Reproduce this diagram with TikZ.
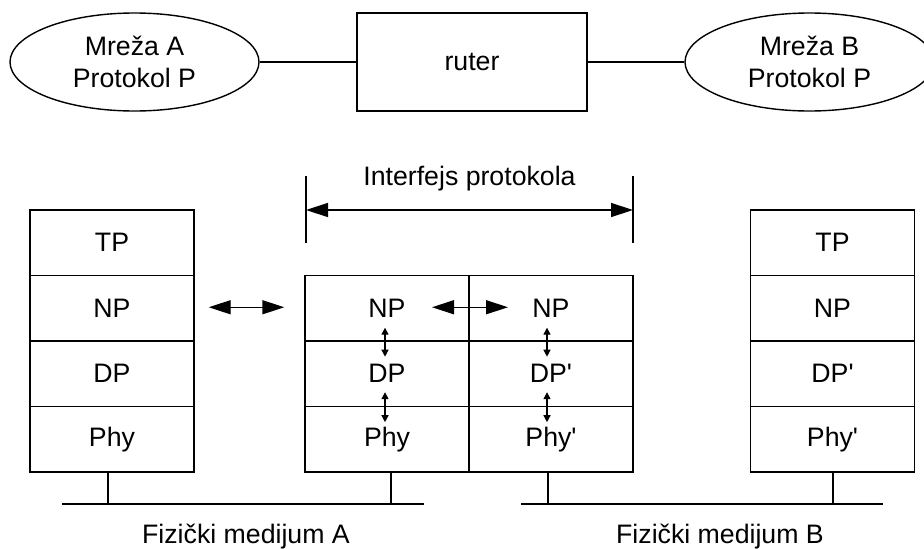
\documentclass[tikz,border=0pt]{standalone}
\usepackage{fontspec}
\setmainfont{Liberation Sans}
\usetikzlibrary{arrows.meta,shapes.geometric}
\newcommand{\pr}{\textquotesingle}
\begin{document}
\begin{tikzpicture}[x=1pt,y=-1pt,
  every node/.style={font=\fontsize{26.7}{32}\selectfont},
  line/.style={line width=1.4pt},
  net/.style={draw, ellipse, line width=1.4pt, minimum width=249pt,
    minimum height=98pt, inner sep=0pt, align=center},
  box/.style={draw, rectangle, line width=1.4pt, inner sep=0pt},
  cell/.style={box, minimum width=164pt, minimum height=65.5pt},
  bigarrow/.style={line width=1.4pt,
    {Triangle[length=22pt,width=14pt]}-{Triangle[length=22pt,width=14pt]}},
  smallarrow/.style={line width=1.3pt,
    {Triangle[length=7pt,width=7pt]}-{Triangle[length=7pt,width=7pt]}},
]
\useasboundingbox (0,0) rectangle (924,549);

% networks and router
\node[net] (netA) at (134.5,62) {Mreža A\\Protokol P};
\node[box, minimum width=230pt, minimum height=98pt] (router) at (472,62) {ruter};
\node[net] (netB) at (809.5,62) {Mreža B\\Protokol P};
\draw[line] (netA) -- (router);
\draw[line] (router) -- (netB);

% left host stack
\node[cell] (tpL)  at (112,242.75) {TP};
\node[cell] (npL)  at (112,308.25) {NP};
\node[cell] (dpL)  at (112,373.75) {DP};
\node[cell] (phyL) at (112,439.25) {Phy};

% router stacks
\node[cell] (npM1)  at (387,308.25) {NP};
\node[cell] (dpM1)  at (387,373.75) {DP};
\node[cell] (phyM1) at (387,439.25) {Phy};
\node[cell] (npM2)  at (551,308.25) {NP};
\node[cell] (dpM2)  at (551,373.75) {DP\pr};
\node[cell] (phyM2) at (551,439.25) {Phy\pr};

% right host stack
\node[cell] (tpR)  at (832.5,242.75) {TP};
\node[cell] (npR)  at (832.5,308.25) {NP};
\node[cell] (dpR)  at (832.5,373.75) {DP\pr};
\node[cell] (phyR) at (832.5,439.25) {Phy\pr};

% peer arrows
\draw[bigarrow] ([shift={(14,-1)}]npL.east) -- ([shift={(-20,-1)}]npM1.west);
\draw[bigarrow] ([shift={(45,-1)}]npM1.center) -- ([shift={(-43,-1)}]npM2.center);

% layer arrows inside the router
\draw[smallarrow] ([shift={(-2,-14)}]npM1.south) -- ([shift={(-2,15)}]npM1.south);
\draw[smallarrow] ([shift={(-2,-15)}]dpM1.south) -- ([shift={(-2,15)}]dpM1.south);
\draw[smallarrow] ([shift={(-4,-14)}]npM2.south) -- ([shift={(-4,15)}]npM2.south);
\draw[smallarrow] ([shift={(-4,-15)}]dpM2.south) -- ([shift={(-4,15)}]dpM2.south);

% protocol interface span
\coordinate (ifLt) at (306,176);
\coordinate (ifLb) at (306,243);
\coordinate (ifRt) at (633,176);
\coordinate (ifRb) at (633,243);
\coordinate (ifL) at (306,210);
\coordinate (ifR) at (633,210);
\draw[line] (ifLt) -- (ifLb);
\draw[line] (ifRt) -- (ifRb);
\draw[bigarrow] (ifL) -- (ifR);
\node[anchor=base] (iflabel) at (469.5,185) {Interfejs protokola};

% physical media
\coordinate (busA1) at (62,504);
\coordinate (busA2) at (424,504);
\coordinate (busB1) at (521,504);
\coordinate (busB2) at (883,504);
\coordinate (dA1) at (108,504);
\coordinate (dA2) at (391,504);
\coordinate (dB1) at (548,504);
\coordinate (dB2) at (833,504);
\draw[line] (busA1) -- (busA2);
\draw[line] (busB1) -- (busB2);
\draw[line] (phyL.south -| dA1) -- (dA1);
\draw[line] (phyM1.south -| dA2) -- (dA2);
\draw[line] (phyM2.south -| dB1) -- (dB1);
\draw[line] (phyR.south -| dB2) -- (dB2);
\node[anchor=base] (medA) at (246,543) {Fizički medijum A};
\node[anchor=base] (medB) at (720,543) {Fizički medijum B};
\end{tikzpicture}
\end{document}
